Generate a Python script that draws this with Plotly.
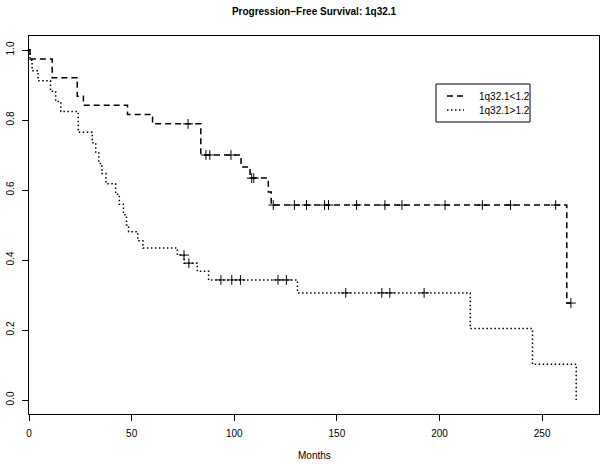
import plotly.graph_objects as go
import numpy as np

title = "Progression\u2212Free Survival: 1q32.1"
x_label = "Months"

# Group 1: 1q32.1<1.2 (dashed)
low_name = "1q32.1<1.2"
low_times = [0, 0.5, 11.3, 23.5, 26.5, 48, 60.2, 83.7, 103.3, 107.7, 116.6, 118, 262, 264]
low_surv = [1.0, 0.974, 0.921, 0.868, 0.842, 0.816, 0.789, 0.700, 0.666, 0.634, 0.594, 0.557, 0.277, 0.277]
low_censor = [77.5, 86.2, 88.1, 98.4, 108.5, 109.5, 119.0, 129.3, 135.2, 144.0, 145.9,
              159.6, 173.4, 181.7, 202.7, 220.9, 234.6, 256.6, 264]

# Group 2: 1q32.1>1.2 (dotted)
high_name = "1q32.1>1.2"
high_times = [0, 0.5, 1.5, 4.4, 10.5, 13, 15.5, 24, 30.8, 32.5, 34, 35.5, 37.5, 42.2, 44, 46,
              47.5, 48.5, 53, 55.5, 72.3, 75.6, 82, 87.5, 130.8, 215, 245.3, 266.6]
high_surv = [1.0, 0.971, 0.941, 0.912, 0.882, 0.853, 0.824, 0.765, 0.735, 0.706, 0.676, 0.647,
             0.618, 0.588, 0.559, 0.529, 0.500, 0.481, 0.455, 0.434, 0.414, 0.391, 0.368,
             0.343, 0.306, 0.204, 0.102, 0.0]
high_censor = [75.5, 77.9, 93.5, 98.8, 103.0, 121.3, 125.4, 154.3, 171.9, 175.8, 192.5]

x_ticks = [0, 50, 100, 150, 200, 250]
y_ticks = [0.0, 0.2, 0.4, 0.6, 0.8, 1.0]
y_ticktext = ["0.0", "0.2", "0.4", "0.6", "0.8", "1.0"]


def step_value(times, surv, t):
    idx = np.searchsorted(np.array(times), t, side="right") - 1
    return surv[max(idx, 0)]


FONT = "Liberation Sans, Arial, Helvetica, sans-serif"

fig = go.Figure()
groups = [
    (low_name, low_times, low_surv, low_censor, "6px,4px", 1.5),
    (high_name, high_times, high_surv, high_censor, "1.5px,2.5px", 1.5),
]
for name, t, s, c, dash, w in groups:
    fig.add_trace(go.Scatter(x=t, y=s, mode="lines", line_shape="hv", name=name,
                             line=dict(color="black", dash=dash, width=w), showlegend=False))
    fig.add_trace(go.Scatter(x=c, y=[step_value(t, s, v) for v in c], mode="markers",
                             marker=dict(symbol="cross-thin-open", size=7, color="black",
                                         line=dict(color="black", width=1)),
                             showlegend=False, hoverinfo="skip"))

fig.update_layout(
    template="none",
    width=604, height=467,
    margin=dict(l=29, r=5, t=36, b=53, autoexpand=False),
    paper_bgcolor="white", plot_bgcolor="white",
    font=dict(family=FONT, size=10, color="black"),
    title=dict(text="<b>" + title + "</b>", x=0.5, xref="paper", xanchor="center",
               y=1 - 11 / 467, yref="container", yanchor="middle",
               font=dict(family=FONT, size=10, color="black")),
)
fig.update_xaxes(range=[0, 277.7], tickvals=x_ticks, ticks="outside", ticklen=6,
                 tickcolor="black", showgrid=False, zeroline=False, showline=True,
                 linecolor="black", linewidth=1, mirror=True, ticklabelstandoff=4,
                 automargin=False, tickfont=dict(size=10))
fig.update_yaxes(range=[-0.04, 1.04], tickvals=y_ticks, ticktext=y_ticktext, ticks="outside",
                 ticklen=6, tickcolor="black", tickangle=-90, showgrid=False, zeroline=False,
                 showline=True, linecolor="black", linewidth=1, mirror=True,
                 ticklabelstandoff=4, automargin=False, tickfont=dict(size=10))

fig.add_annotation(text=x_label, xref="paper", yref="paper", x=0.5, y=0, yshift=-41,
                   showarrow=False, xanchor="center", yanchor="middle", font=dict(size=10))

# Manual legend (R style) in pixel-derived paper coordinates
def px_x(p):
    return (p - 29) / (604 - 29 - 5)


def px_y(p):
    return 1 - (p - 36) / (467 - 36 - 53)


fig.add_shape(type="rect", xref="paper", yref="paper", x0=px_x(436), x1=px_x(530),
              y0=px_y(122), y1=px_y(84), line=dict(color="black", width=1))
for (name, _, _, _, dash, w), ypix in zip(groups, [96, 110]):
    fig.add_shape(type="line", xref="paper", yref="paper", x0=px_x(447), x1=px_x(464),
                  y0=px_y(ypix), y1=px_y(ypix), line=dict(color="black", dash=dash, width=w))
    fig.add_annotation(text=name, xref="paper", yref="paper", x=px_x(477), y=px_y(ypix),
                       showarrow=False, xanchor="left", yanchor="middle", font=dict(size=10))

fig.write_html("out.html", config={"displayModeBar": False},
               post_script="document.body.style.margin='0';document.body.style.overflow='hidden';")
